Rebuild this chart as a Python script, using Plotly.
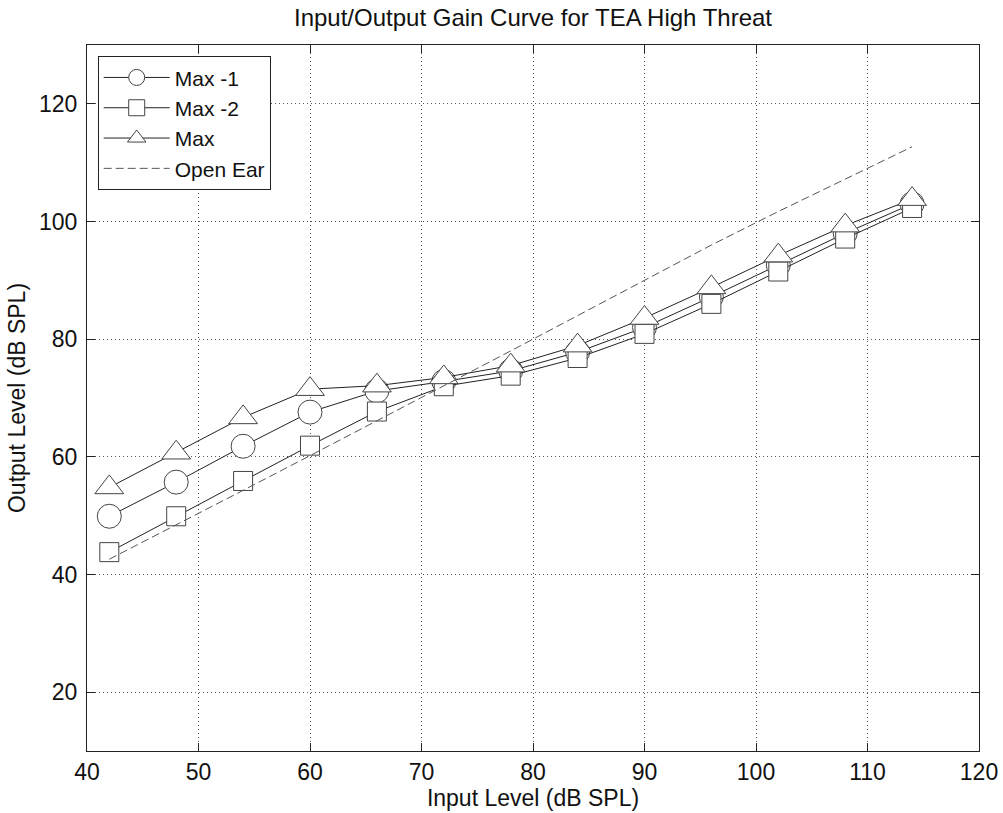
import plotly.graph_objects as go

input_level = [42, 48, 54, 60, 66, 72, 78, 84, 90, 96, 102, 108, 114]
max_minus1 = [49.9, 55.7, 61.8, 67.6, 71.2, 72.8, 74.6, 77.8, 82.0, 87.2, 92.6, 98.0, 103.0]
max_minus2 = [43.8, 49.9, 55.9, 61.9, 67.7, 72.0, 73.8, 76.8, 80.9, 86.0, 91.5, 97.1, 102.3]
max_gain = [54.8, 60.7, 66.7, 71.5, 72.1, 73.5, 75.5, 78.9, 83.6, 88.8, 94.2, 99.3, 103.8]
open_ear = [42.6, 48.4, 54.3, 60.2, 66.1, 72.0, 78.0, 84.0, 90.0, 96.0, 101.7, 107.2, 112.7]

x_ticks = [40, 50, 60, 70, 80, 90, 100, 110, 120]
y_ticks = [20, 40, 60, 80, 100, 120]

FONT = "Liberation Sans, Arial, Helvetica, sans-serif"
FS = 23

fig = go.Figure()
fig.add_trace(go.Scatter(
    x=input_level, y=max_minus1, name="Max -1", mode="lines+markers",
    line=dict(color="#222222", width=1),
    marker=dict(symbol="circle", size=24, color="white",
                line=dict(color="#444444", width=1))))
fig.add_trace(go.Scatter(
    x=input_level, y=max_minus2, name="Max -2", mode="lines+markers",
    line=dict(color="#222222", width=1),
    marker=dict(symbol="square", size=19, color="white",
                line=dict(color="#444444", width=1))))
fig.add_trace(go.Scatter(
    x=input_level, y=max_gain, name="Max", mode="lines+markers",
    line=dict(color="#222222", width=1),
    marker=dict(symbol="triangle-up", size=25, color="white",
                line=dict(color="#444444", width=1))))
fig.add_trace(go.Scatter(
    x=input_level, y=open_ear, name="Open Ear", mode="lines",
    line=dict(color="#555555", width=1, dash="8px,4px")))

axis_common = dict(
    showline=True, linecolor="#222222", linewidth=1, mirror="allticks",
    ticks="inside", ticklen=8, tickcolor="#222222",
    showgrid=True, gridcolor="#555555", griddash="1px,3px", gridwidth=1,
    zeroline=False, automargin=False,
    tickfont=dict(family=FONT, size=FS, color="#111111"),
)

fig.update_layout(
    width=1003, height=813,
    margin=dict(l=87, r=24, t=45, b=62),
    paper_bgcolor="white", plot_bgcolor="white",
    title=dict(text="Input/Output Gain Curve for TEA High Threat",
               xref="paper", x=0.5, xanchor="center", y=0.978, yanchor="middle",
               font=dict(family=FONT, size=24, color="#111111")),
    xaxis=dict(range=[40, 120], tickvals=x_ticks,
               title=dict(text="Input Level (dB SPL)", standoff=4,
                          font=dict(family=FONT, size=FS, color="#111111")),
               **axis_common),
    yaxis=dict(range=[10, 130], tickvals=y_ticks, ticklabelstandoff=4,
               title=dict(text="Output Level (dB SPL)", standoff=6,
                          font=dict(family=FONT, size=FS, color="#111111")),
               **axis_common),
    legend=dict(x=0.012, y=0.984, xanchor="left", yanchor="top",
                bgcolor="white", bordercolor="#222222", borderwidth=1,
                font=dict(family=FONT, size=21, color="#111111"),
                tracegroupgap=0, itemwidth=66),
    showlegend=True,
)

fig.write_html("out.html")
